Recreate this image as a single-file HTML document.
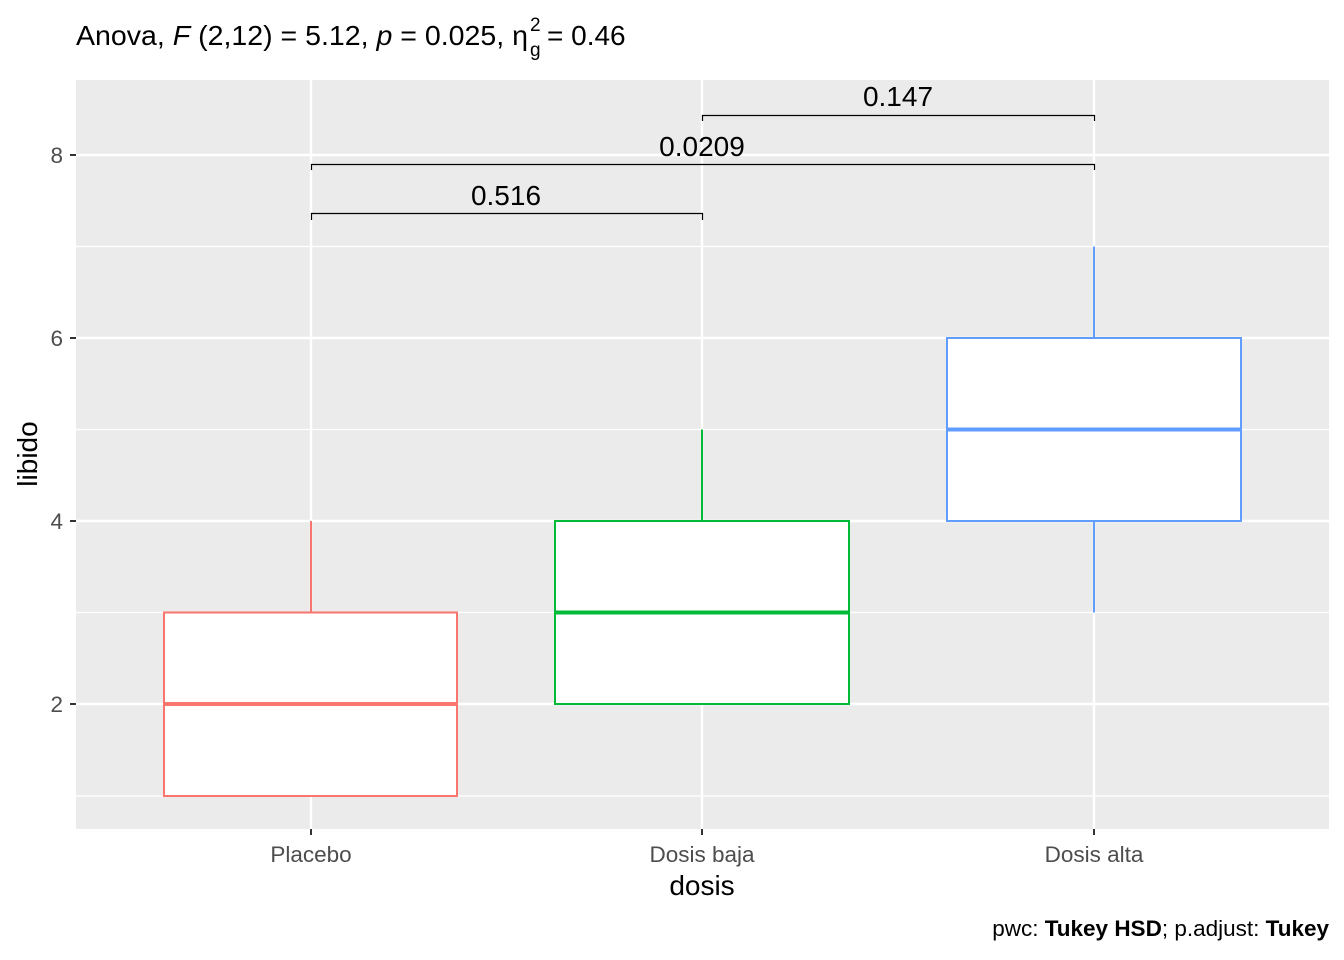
<!DOCTYPE html>
<html><head><meta charset="utf-8"><style>body{margin:0;background:#fff}svg{display:block}</style></head><body>
<svg width="1344" height="960" xmlns="http://www.w3.org/2000/svg" font-family="Liberation Sans, Arial, sans-serif">
<rect x="76" y="80" width="1253" height="749" fill="#EBEBEB"/>
<g stroke="#fff" stroke-width="1.2">
<line x1="76" x2="1329" y1="796" y2="796"/><line x1="76" x2="1329" y1="612.5" y2="612.5"/>
<line x1="76" x2="1329" y1="429.5" y2="429.5"/><line x1="76" x2="1329" y1="246.5" y2="246.5"/>
</g>
<g stroke="#fff" stroke-width="2.4">
<line x1="76" x2="1329" y1="704" y2="704"/><line x1="76" x2="1329" y1="521" y2="521"/>
<line x1="76" x2="1329" y1="338" y2="338"/><line x1="76" x2="1329" y1="155" y2="155"/>
<line x1="311" x2="311" y1="80" y2="829"/><line x1="702" x2="702" y1="80" y2="829"/><line x1="1094" x2="1094" y1="80" y2="829"/>
</g>
<g stroke="#F8766D" stroke-width="2" fill="#fff">
<line x1="311" x2="311" y1="521" y2="612.5"/>
<rect x="164" y="612.5" width="293" height="183.5"/>
<line x1="164" x2="457" y1="704" y2="704" stroke-width="4"/>
</g>
<g stroke="#00BA38" stroke-width="2" fill="#fff">
<line x1="702" x2="702" y1="429.5" y2="521"/>
<rect x="555" y="521" width="294" height="183"/>
<line x1="555" x2="849" y1="612.5" y2="612.5" stroke-width="4"/>
</g>
<g stroke="#619CFF" stroke-width="2" fill="#fff">
<line x1="1094" x2="1094" y1="246.5" y2="338"/>
<line x1="1094" x2="1094" y1="521" y2="612.5"/>
<rect x="947" y="338" width="294" height="183"/>
<line x1="947" x2="1241" y1="429.5" y2="429.5" stroke-width="4"/>
</g>
<g stroke="#000" stroke-width="1.2" fill="none">
<polyline points="311.5,220 311.5,213.5 702.5,213.5 702.5,220"/>
<polyline points="311.5,170 311.5,164.5 1094.5,164.5 1094.5,170"/>
<polyline points="702.5,121 702.5,115.5 1094.5,115.5 1094.5,121"/>
</g>
<g font-size="28" text-anchor="middle" fill="#000">
<text x="506" y="205">0.516</text>
<text x="702" y="156">0.0209</text>
<text x="898" y="106">0.147</text>
</g>
<g stroke="#333" stroke-width="2">
<line x1="70" x2="76" y1="704" y2="704"/><line x1="70" x2="76" y1="521" y2="521"/>
<line x1="70" x2="76" y1="338" y2="338"/><line x1="70" x2="76" y1="155" y2="155"/>
<line x1="311" x2="311" y1="829" y2="835"/><line x1="702" x2="702" y1="829" y2="835"/><line x1="1094" x2="1094" y1="829" y2="835"/>
</g>
<g font-size="22.5" fill="#4D4D4D" text-anchor="end">
<text x="63" y="712">2</text><text x="63" y="529">4</text><text x="63" y="346">6</text><text x="63" y="163">8</text>
</g>
<g font-size="22.5" fill="#4D4D4D" text-anchor="middle">
<text x="311" y="862">Placebo</text><text x="702" y="862">Dosis baja</text><text x="1094" y="862">Dosis alta</text>
</g>
<text x="702" y="895" font-size="28" text-anchor="middle">dosis</text>
<text transform="translate(37,454) rotate(-90)" font-size="28" text-anchor="middle">libido</text>
<text x="76" y="45" font-size="28" textLength="452" lengthAdjust="spacingAndGlyphs">Anova, <tspan font-style="italic">F</tspan> (2,12) = 5.12, <tspan font-style="italic">p</tspan> = 0.025, η</text>
<text x="530" y="56" font-size="19">g</text>
<text x="530" y="31" font-size="19">2</text>
<text x="547" y="45" font-size="28">= 0.46</text>
<text x="1329" y="936" font-size="22.5" text-anchor="end">pwc: <tspan font-weight="bold">Tukey HSD</tspan>; p.adjust: <tspan font-weight="bold">Tukey</tspan></text>
</svg>
</body></html>
